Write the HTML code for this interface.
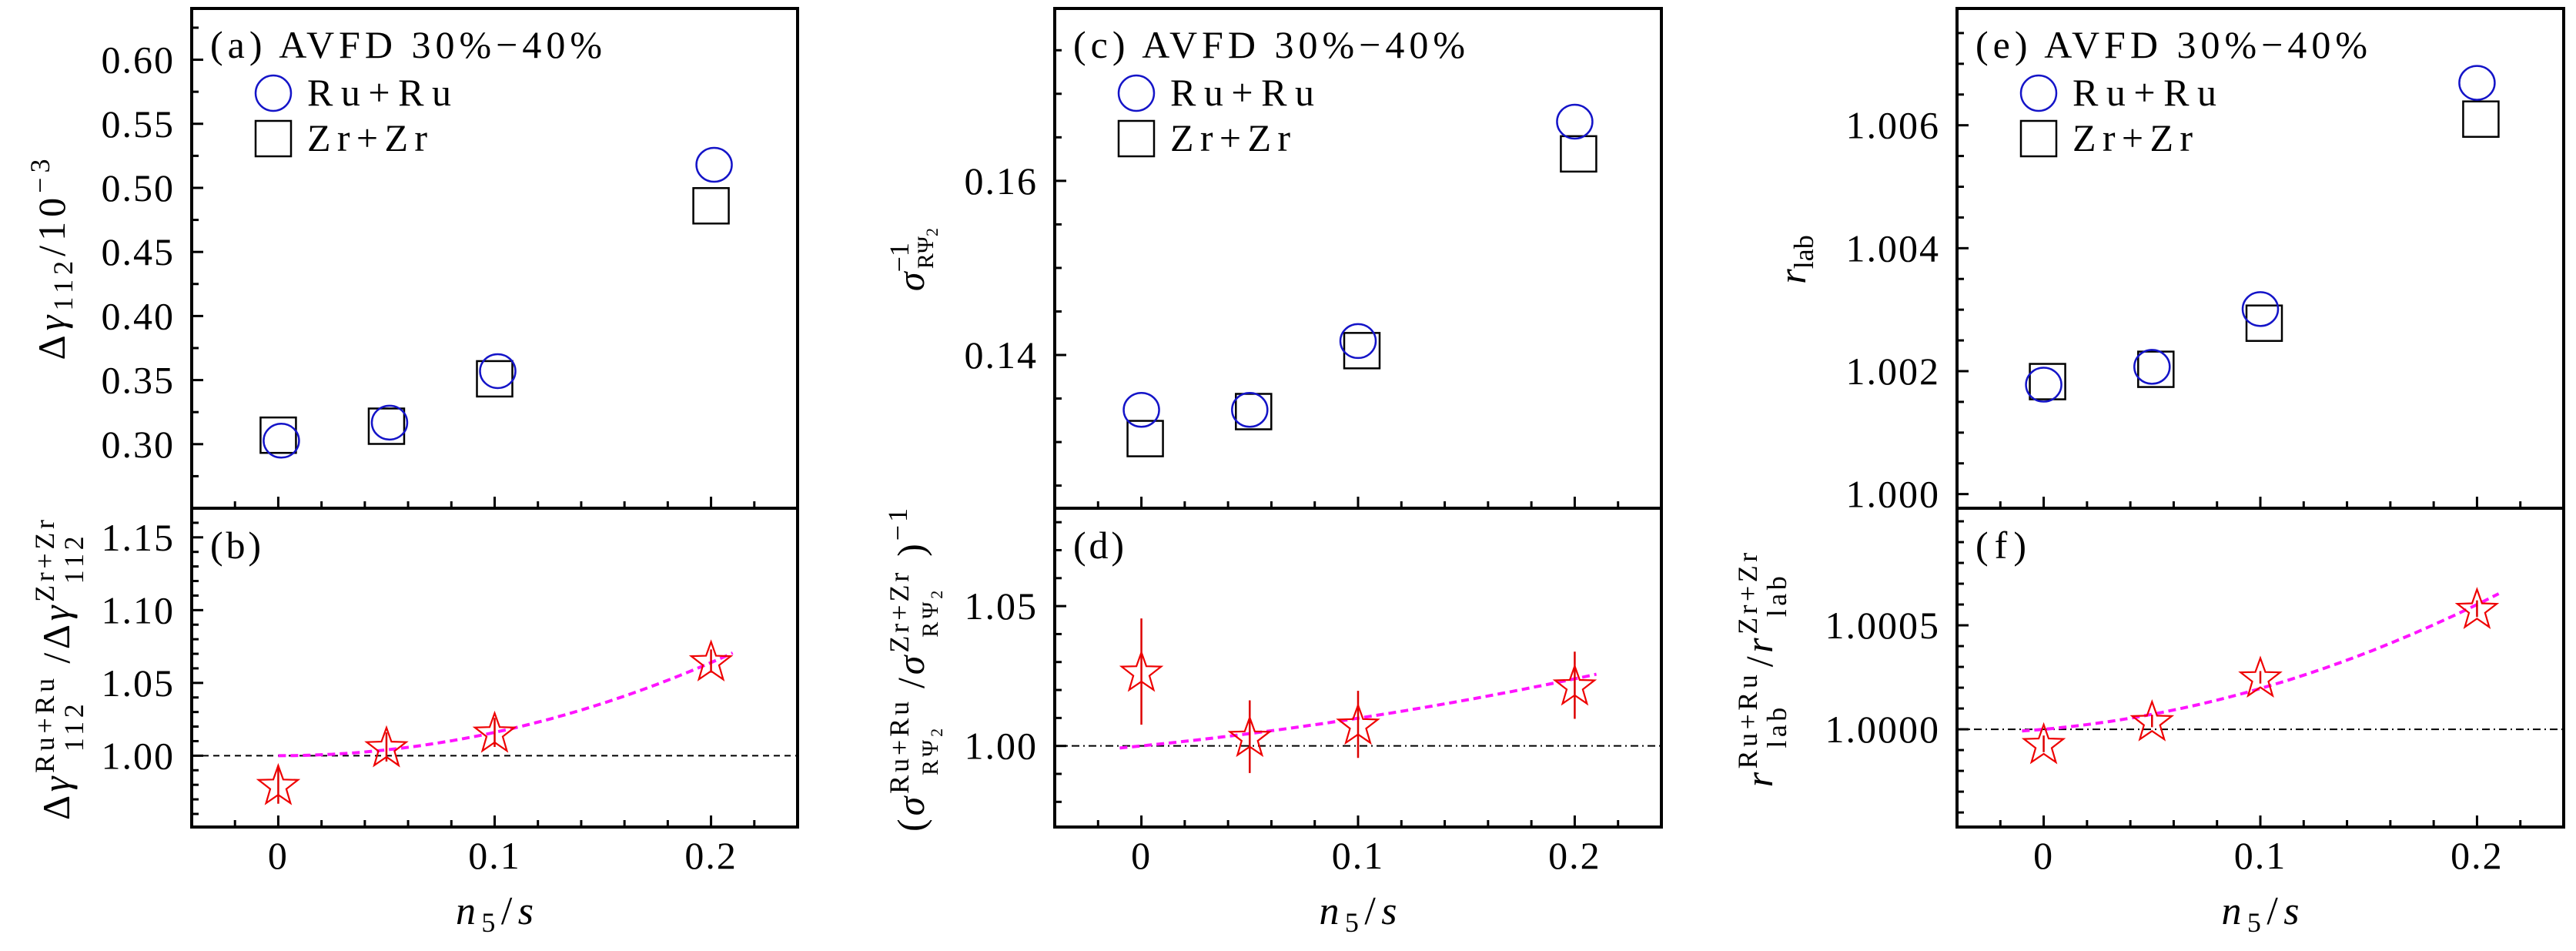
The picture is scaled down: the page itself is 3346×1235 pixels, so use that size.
<!DOCTYPE html>
<html><head><meta charset="utf-8"><style>
html,body{margin:0;padding:0;background:#fff;}
svg, svg text{font-family:"Liberation Serif","DejaVu Serif",serif;}
</style></head><body>
<svg id="chart" width="3346" height="1230" viewBox="0 0 3346 1230" xmlns="http://www.w3.org/2000/svg" font-family="Liberation Serif, DejaVu Serif, serif">
<rect x="0" y="0" width="3346" height="1230" fill="#fff"/>
<g id="axes-titles" font-size="50">
  <text transform="translate(84,337) rotate(-90)" text-anchor="middle" textLength="261" lengthAdjust="spacing">Δ<tspan font-style="italic">γ</tspan><tspan font-size="36" dy="10">112</tspan><tspan dy="-10">/10</tspan><tspan font-size="36" dy="-20">−3</tspan></text>
  <text transform="translate(90,870) rotate(-90)" text-anchor="middle" textLength="404" lengthAdjust="spacing">Δ<tspan font-style="italic">γ</tspan><tspan font-size="36" dy="-20">Ru+Ru</tspan><tspan font-size="36" dx="-100" dy="38">112</tspan><tspan dx="48" dy="-18">/Δ</tspan><tspan font-style="italic">γ</tspan><tspan font-size="36" dy="-20">Zr+Zr</tspan><tspan font-size="36" dx="-88" dy="38">112</tspan></text>
  <text transform="translate(1200,337) rotate(-90)" text-anchor="middle"><tspan font-style="italic">σ</tspan><tspan font-size="36" dy="-20">−1</tspan><tspan font-size="30" dx="-34" dy="32">RΨ</tspan><tspan font-size="22" dy="6">2</tspan></text>
  <text transform="translate(1200,870) rotate(-90)" text-anchor="middle" textLength="420" lengthAdjust="spacing">(<tspan font-style="italic">σ</tspan><tspan font-size="36" dy="-20">Ru+Ru</tspan><tspan font-size="30" dx="-100" dy="38">RΨ</tspan><tspan font-size="22" dy="6">2</tspan><tspan dx="48" dy="-24">/</tspan><tspan font-style="italic">σ</tspan><tspan font-size="36" dy="-20">Zr+Zr</tspan><tspan font-size="30" dx="-88" dy="38">RΨ</tspan><tspan font-size="22" dy="6">2</tspan><tspan dx="40" dy="-24">)</tspan><tspan font-size="36" dy="-22">−1</tspan></text>
  <text transform="translate(2345,337) rotate(-90)" text-anchor="middle"><tspan font-style="italic">r</tspan><tspan font-size="36" dy="10">lab</tspan></text>
  <text transform="translate(2302,870) rotate(-90)" text-anchor="middle" textLength="318" lengthAdjust="spacing"><tspan font-style="italic">r</tspan><tspan font-size="36" dy="-20">Ru+Ru</tspan><tspan font-size="36" dx="-100" dy="38">lab</tspan><tspan dx="48" dy="-18">/</tspan><tspan font-style="italic">r</tspan><tspan font-size="36" dy="-20">Zr+Zr</tspan><tspan font-size="36" dx="-88" dy="38">lab</tspan></text>
</g>
</svg>
<script>
// ---- data ----
const nCategories = [0, 0.05, 0.1, 0.2];
const xTickLabels = ["0", "0.1", "0.2"];
const xTickValues = [0, 0.1, 0.2];
// panel a
const gammaRu = [0.3027, 0.3168, 0.357, 0.518];
const gammaZr = [0.307, 0.314, 0.351, 0.486];
const gammaTicks = [0.30, 0.35, 0.40, 0.45, 0.50, 0.55, 0.60];
const gammaTickLabels = ["0.30", "0.35", "0.40", "0.45", "0.50", "0.55", "0.60"];
// panel b
const gammaRatio = [0.980, 1.006, 1.016, 1.065];
const gammaRatioErr = [0.013, 0.010, 0.010, 0.008];
const gammaRatioTicks = [1.00, 1.05, 1.10, 1.15];
const gammaRatioTickLabels = ["1.00", "1.05", "1.10", "1.15"];
const gammaFit = [0, 1.6]; // 1 + a x + b x^2
// panel c
const sigmaRu = [0.1337, 0.1337, 0.1416, 0.1668];
const sigmaZr = [0.1304, 0.1335, 0.1405, 0.1631];
const sigmaTicks = [0.14, 0.16];
const sigmaTickLabels = ["0.14", "0.16"];
// panel d
const sigmaRatio = [1.0266, 1.0033, 1.0077, 1.0217];
const sigmaRatioErr = [0.019, 0.013, 0.012, 0.012];
const sigmaRatioTicks = [1.00, 1.05];
const sigmaRatioTickLabels = ["1.00", "1.05"];
const sigmaFit = [0.078, 0.21];
// panel e
const rlabRu = [1.00178, 1.00207, 1.00301, 1.00669];
const rlabZr = [1.00183, 1.00203, 1.00278, 1.00610];
const rlabTicks = [1.000, 1.002, 1.004, 1.006];
const rlabTickLabels = ["1.000", "1.002", "1.004", "1.006"];
// panel f
const rlabRatio = [0.99993, 1.00004, 1.00025, 1.00058];
const rlabRatioErr = [0.00004, 0.00003, 0.00003, 0.00004];
const rlabRatioTicks = [1.0000, 1.0005];
const rlabRatioTickLabels = ["1.0000", "1.0005"];
const rlabFit = [0.00092, 0.0104];

const NS = "http://www.w3.org/2000/svg";
const svg = document.getElementById("chart");
function mk(tag, attrs, parent) {
  const e = document.createElementNS(NS, tag);
  for (const k in attrs) e.setAttribute(k, attrs[k]);
  (parent || svg).appendChild(e);
  return e;
}
const XMIN = -0.04, XMAX = 0.24, TOP = 11, MID = 660, BOT = 1074;

function panel(cfg) {
  const g = mk("g", {});
  
  
  const L = cfg.L, R = cfg.R;
  const sx = v => L + (v - XMIN) / (XMAX - XMIN) * (R - L);
  const syU = v => MID - (v - cfg.uMin) / (cfg.uMax - cfg.uMin) * (MID - TOP);
  const syL = v => BOT - (v - cfg.lMin) / (cfg.lMax - cfg.lMin) * (BOT - MID);
  for (let i = -2; i <= 12; i++) {
    const v = i * 0.02;
    if (v <= XMIN + 1e-9 || v >= XMAX - 1e-9) continue;
    const major = Math.abs(v * 10 - Math.round(v * 10)) < 1e-6;
    const len = major ? 15 : 9;
    [MID, BOT].forEach(y => {
      const t = mk("line", {x1: sx(v), x2: sx(v), y1: y, y2: y - len, stroke: "#000", "stroke-width": 3}, g);
      
      
    });
  }
  xTickValues.forEach((v, i) => {
    const t = mk("text", {x: sx(v), y: 1128, "text-anchor": "middle", "font-size": 50, "letter-spacing": 2}, g);
    t.textContent = xTickLabels[i];
    
    
  });
  const xt = mk("text", {x: sx(0.1), y: 1200, "text-anchor": "middle", "font-size": 52, "font-style": "italic", textLength: 101, lengthAdjust: "spacing"}, g);
  xt.innerHTML = 'n<tspan font-size="36" dy="10" font-style="normal">5</tspan><tspan dy="-10" font-style="normal">/</tspan>s';
  
  
  function yticks(min, max, minor, majors, labels, sy, top, bot, lblName) {
    const n0 = Math.ceil(min / minor - 1e-6), n1 = Math.floor(max / minor + 1e-6);
    for (let i = n0; i <= n1; i++) {
      const v = i * minor, y = sy(v);
      if (y <= top + 2 || y >= bot - 2) continue;
      const major = majors.some(m => Math.abs(m - v) < minor * 0.01);
      const t = mk("line", {x1: L, x2: L + (major ? 15 : 9), y1: y, y2: y, stroke: "#000", "stroke-width": 3}, g);
      
      
    }
    majors.forEach((v, i) => {
      const t = mk("text", {x: L - 22, y: sy(v) + 17, "text-anchor": "end", "font-size": 50, "letter-spacing": 2}, g);
      t.textContent = labels[i];
      
      
    });
  }
  yticks(cfg.uMin, cfg.uMax, cfg.uMinor, cfg.uTicks, cfg.uLabels, syU, TOP, MID, 'y-tick-label-upper');
  yticks(cfg.lMin, cfg.lMax, cfg.lMinor, cfg.lTicks, cfg.lLabels, syL, MID, BOT, 'y-tick-label-lower');
  const f1 = mk("rect", {x: L, y: TOP, width: R - L, height: MID - TOP, fill: "none", stroke: "#000", "stroke-width": 4}, g);
  
  
  const f2 = mk("rect", {x: L, y: MID, width: R - L, height: BOT - MID, fill: "none", stroke: "#000", "stroke-width": 4}, g);
  
  
  const pl = mk("text", {x: L + 24, y: 75, "font-size": 50, textLength: 509, lengthAdjust: "spacing"}, g);
  pl.textContent = "(" + cfg.letters[0] + ")  AVFD 30%−40%";
  pl.setAttribute('xml:space', 'preserve');
  
  
  const pl2 = mk("text", {x: L + 24, y: 725, "font-size": 50, textLength: 66, lengthAdjust: "spacing"}, g);
  pl2.textContent = "(" + cfg.letters[1] + ")";
  
  
  const lc = mk("ellipse", {cx: L + 106, cy: 121, rx: 23, ry: 23, fill: "none", stroke: "#1414c8", "stroke-width": 2.5}, g);
  
  
  const lt = mk("text", {x: L + 150, y: 137, "font-size": 50, textLength: 187, lengthAdjust: "spacing"}, g);
  lt.textContent = "Ru+Ru";
  
  
  const ls = mk("rect", {x: L + 83, y: 157, width: 46, height: 46, fill: "none", stroke: "#000", "stroke-width": 2.5}, g);
  
  
  const lt2 = mk("text", {x: L + 150, y: 196, "font-size": 50, textLength: 156, lengthAdjust: "spacing"}, g);
  lt2.textContent = "Zr+Zr";
  
  
  nCategories.forEach((x, i) => {
    const s = mk("rect", {x: sx(x) + cfg.sqOff - 23, y: syU(cfg.zr[i]) - 23, width: 46, height: 46, fill: "none", stroke: "#000", "stroke-width": 2.5}, g);
    
    
    const c = mk("ellipse", {cx: sx(x) + cfg.ciOff, cy: syU(cfg.ru[i]), rx: 23, ry: 22, fill: "none", stroke: "#1414c8", "stroke-width": 2.5}, g);
    
    
  });
  const rl = mk("line", {x1: L, x2: R, y1: syL(1), y2: syL(1), stroke: "#000", "stroke-width": 2, "stroke-dasharray": cfg.refDash}, g);
  
  
  let d = "";
  for (let k = 0; k <= 60; k++) {
    const x = cfg.fitStart + (0.21 - cfg.fitStart) * k / 60;
    const y = 1 + cfg.fit[0] * x + cfg.fit[1] * x * x;
    d += (k ? "L" : "M") + sx(x).toFixed(1) + "," + syL(y).toFixed(1);
  }
  const fc = mk("path", {d: d, fill: "none", stroke: "#ff14ff", "stroke-width": 4, "stroke-dasharray": "10 6"}, g);
  
  
  nCategories.forEach((x, i) => {
    const cx = sx(x), cy = syL(cfg.ratio[i]);
    const e = mk("line", {x1: cx, x2: cx, y1: syL(cfg.ratio[i] + cfg.err[i]), y2: syL(cfg.ratio[i] - cfg.err[i]), stroke: "#d00", "stroke-width": 2.5}, g);
    
    
    let p = "";
    for (let k = 0; k < 10; k++) {
      const r = k % 2 ? 11 : 27, a = -Math.PI / 2 + k * Math.PI / 5;
      p += (cx + r * Math.cos(a)).toFixed(1) + "," + (cy + 2 + r * Math.sin(a)).toFixed(1) + " ";
    }
    const st = mk("polygon", {points: p, fill: "none", stroke: "#e00", "stroke-width": 2.2}, g);
    
    
  });
}

panel({name: "panel-ab", letters: ["a", "b"], L: 249, R: 1036,
  uMin: 0.25, uMax: 0.64, uMinor: 0.025, uTicks: gammaTicks, uLabels: gammaTickLabels,
  lMin: 0.951, lMax: 1.17, lMinor: 0.01, lTicks: gammaRatioTicks, lLabels: gammaRatioTickLabels,
  ru: gammaRu, zr: gammaZr, ratio: gammaRatio, err: gammaRatioErr, fit: gammaFit, fitStart: 0,
  refDash: "8 6", sqOff: 0, ciOff: 4});
panel({name: "panel-cd", letters: ["c", "d"], L: 1370, R: 2158,
  uMin: 0.1224, uMax: 0.1798, uMinor: 0.005, uTicks: sigmaTicks, uLabels: sigmaTickLabels,
  lMin: 0.971, lMax: 1.085, lMinor: 0.01, lTicks: sigmaRatioTicks, lLabels: sigmaRatioTickLabels,
  ru: sigmaRu, zr: sigmaZr, ratio: sigmaRatio, err: sigmaRatioErr, fit: sigmaFit, fitStart: -0.01,
  refDash: "10 5 2 5", sqOff: 5, ciOff: 0});
panel({name: "panel-ef", letters: ["e", "f"], L: 2542, R: 3330,
  uMin: 0.99977, uMax: 1.0079, uMinor: 0.0005, uTicks: rlabTicks, uLabels: rlabTickLabels,
  lMin: 0.99953, lMax: 1.001063, lMinor: 0.0001, lTicks: rlabRatioTicks, lLabels: rlabRatioTickLabels,
  ru: rlabRu, zr: rlabZr, ratio: rlabRatio, err: rlabRatioErr, fit: rlabFit, fitStart: -0.01,
  refDash: "10 5 2 5", sqOff: 5, ciOff: 0});
</script>
</body></html>
